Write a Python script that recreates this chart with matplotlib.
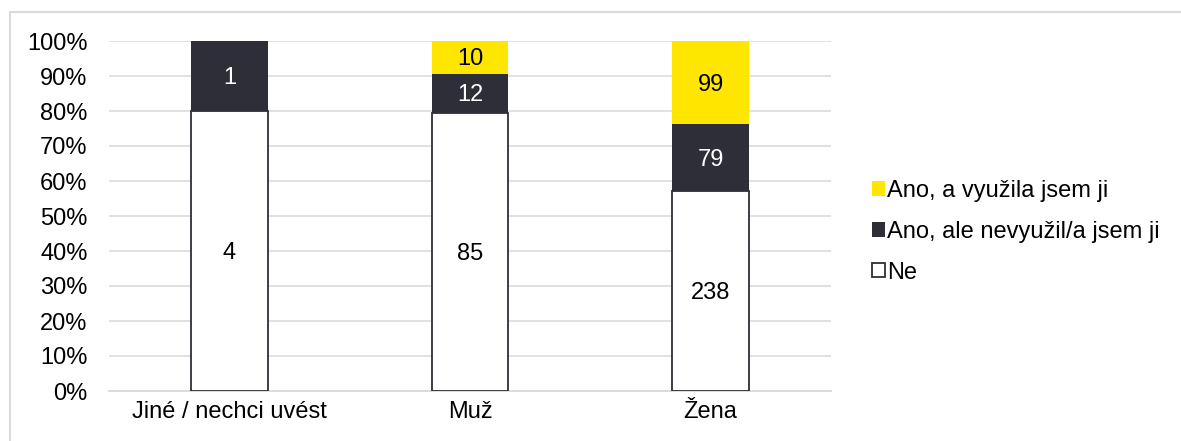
import numpy as np
import matplotlib.pyplot as plt
import matplotlib.patches as patches
from matplotlib.ticker import PercentFormatter

plt.rcParams['font.family'] = ['Liberation Sans', 'DejaVu Sans']

categories = ['Jiné / nechci uvést', 'Muž', 'Žena']
series_names = ['Ne', 'Ano, ale nevyužil/a jsem ji', 'Ano, a využila jsem ji']
ne = [4, 85, 238]
ano_ale = [1, 12, 79]
ano_vyuzila = [0, 10, 99]

dark = '#2e2e38'
yellow = '#ffe600'
grid_col = '#dadae0'
fs = 17

counts = np.array([ne, ano_ale, ano_vyuzila], dtype=float)
shares = counts / counts.sum(axis=0) * 100

fig = plt.figure(figsize=(11.81, 4.41), dpi=100)
ax = fig.add_axes([109/1181, 50/441, 722/1181, 350/441])

x = np.arange(len(categories))
w = 0.318
bottom = np.zeros(len(categories))
faces = ['white', dark, yellow]
txt_cols = ['black', 'white', 'black']
handles = []
for i in range(3):
    bars = ax.bar(x, shares[i], w, bottom=bottom, color=faces[i],
                  edgecolor=dark if i == 0 else 'none', linewidth=1.3, zorder=3)
    handles.append(bars)
    for j in range(len(categories)):
        if counts[i, j] > 0:
            ax.text(x[j], bottom[j] + shares[i, j] / 2 - 0.6, str(int(counts[i, j])),
                    ha='center', va='center', fontsize=fs, color=txt_cols[i], zorder=4)
    bottom += shares[i]

ax.set_xlim(-0.5, 2.5)
ax.set_ylim(0, 100)
ax.set_yticks(np.arange(0, 101, 10))
ax.yaxis.set_major_formatter(PercentFormatter(decimals=0))
ax.set_xticks(x)
ax.set_xticklabels(categories)
ax.tick_params(axis='both', length=0, labelsize=fs)
ax.tick_params(axis='y', pad=15.5)
ax.tick_params(axis='x', pad=7)
ax.grid(axis='y', color=grid_col, linewidth=1.2, zorder=0)
for s in ['top', 'right', 'left']:
    ax.spines[s].set_visible(False)
ax.spines['bottom'].set_color(grid_col)
ax.spines['bottom'].set_linewidth(1.4)

leg = ax.legend(handles[::-1], series_names[::-1], loc='center left',
                bbox_to_anchor=(1.057, 0.455), frameon=False, fontsize=fs,
                handlelength=0.55, handleheight=0.55, handletextpad=0.08,
                labelspacing=0.8, borderpad=0, borderaxespad=0)

# outer chart border
fig.add_artist(patches.Rectangle((10/1181, -0.05), 1.2, (441 - 12)/441 + 0.05,
                                 transform=fig.transFigure, fill=False,
                                 edgecolor=grid_col, linewidth=1.5))

fig.savefig('out.png', dpi=100)
